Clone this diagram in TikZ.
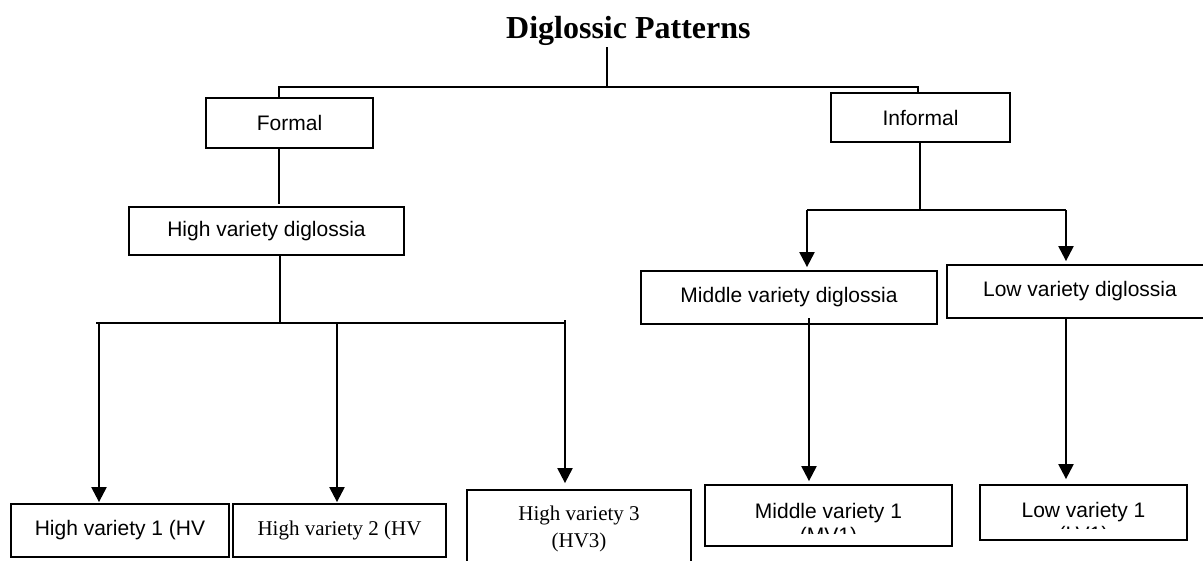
\documentclass[tikz,border=0pt]{standalone}
\usepackage{fontspec}
\setmainfont{Liberation Serif}
\newfontfamily\arialf{Liberation Sans}
\usetikzlibrary{arrows.meta}
\begin{document}
\begin{tikzpicture}[x=1pt,y=-1pt,
  box/.style={draw=black, line width=1.8pt, inner sep=0pt},
  sanst/.style={font=\arialf\fontsize{21}{24}\selectfont},
  seriftxt/.style={font=\fontsize{21}{27}\selectfont},
  conn/.style={line width=1.8pt},
  thinconn/.style={line width=1.3pt},
  arr/.style={line width=2.2pt, -{Triangle[width=15pt,length=15pt]}},
]
\clip (0,0) rectangle (1203,560);
\fill[white] (0,0) rectangle (1203,560);

% title
\node[font=\bfseries\fontsize{32}{36}\selectfont, anchor=base west, inner sep=0pt] (title) at (506,38) {Diglossic Patterns};

% first level
\node[box, sanst, minimum width=167pt, minimum height=50pt] (formal) at (289.5,123) {Formal};
\node[box, sanst, minimum width=179pt, minimum height=49pt] (informal) at (920.5,117.5) {Informal};

% second level
\node[box, sanst, minimum width=275pt, minimum height=48pt] (hvd) at (266.5,231) {High variety diglossia};
\node[box, sanst, minimum width=296pt, minimum height=53pt] (mvd) at (789,297.5) {Middle variety diglossia};
\node[box, sanst, minimum width=266pt, minimum height=53pt] (lvd) at (1080,291.5) {Low variety diglossia};

% bottom level
\node[box, sanst, minimum width=218pt, minimum height=53pt] (hv1) at (120,530.5) {High variety 1 (HV};
\node[box, seriftxt, minimum width=213pt, minimum height=53pt] (hv2) at (339.5,530.5) {High variety 2 (HV};
\node[box, minimum width=224pt, minimum height=90pt] (hv3) at (579,535) {};
\node[seriftxt, anchor=base, inner sep=0pt] (hv3a) at (579,520) {High variety 3};
\node[seriftxt, anchor=base, inner sep=0pt] (hv3b) at (579,547) {(HV3)};

\node[box, minimum width=247pt, minimum height=61pt] (mv1) at (828.5,515.5) {};
\node[sanst, anchor=base, inner sep=0pt] (mv1a) at (828.5,518) {Middle variety 1};
\begin{scope}
  \clip (706,486) rectangle (951,533);
  \node[sanst, anchor=base, inner sep=0pt] (mv1b) at (828.5,542) {(MV1)};
\end{scope}

\node[box, minimum width=207pt, minimum height=55pt] (lv1) at (1083.5,512.5) {};
\node[sanst, anchor=base, inner sep=0pt] (lv1a) at (1083.5,517) {Low variety 1};
\begin{scope}
  \clip (981,486) rectangle (1186,528);
  \node[sanst, anchor=base, inner sep=0pt] (lv1b) at (1083.5,541) {(LV1)};
\end{scope}

% junction coordinates
\coordinate (jt) at (607,87);
\coordinate (jf) at (279,87);
\coordinate (ji) at (918,87);
\coordinate (jh) at (280,323);
\coordinate (jl) at (96,323);
\coordinate (jr) at (565,323);
\coordinate (a1) at (99,323);
\coordinate (a2) at (337,323);
\coordinate (a3) at (565,320);
\coordinate (ji2) at (920,210);
\coordinate (jm) at (807,210);
\coordinate (jlo) at (1066,210);
\coordinate (mvx) at (809,318);
\coordinate (lvx) at (1066,318);

% connectors
\draw[thinconn] (jt |- title.south) ++(0,2) -- (jt);
\draw[conn] (formal.north -| jf) -- (jf) -- (ji) -- (informal.north -| ji);
\draw[conn] (formal.south -| jf) -- ([yshift=2pt]hvd.north -| jf);
\draw[conn] (hvd.south -| jh) -- (jh);
\draw[conn] (jl) -- (jr);
\draw[arr, shorten >=1pt] (a1) -- (a1 |- hv1.north);
\draw[arr, shorten >=1pt] (a2) -- (a2 |- hv2.north);
\draw[arr, shorten >=6pt] (a3) -- (a3 |- hv3.north);

\draw[conn] (informal.south -| ji2) -- (ji2);
\draw[conn] (jm) -- (jlo);
\draw[arr, shorten >=3pt] (jm) -- (jm |- mvd.north);
\draw[arr, shorten >=3pt] (jlo) -- (jlo |- lvd.north);
\draw[arr, shorten >=3pt] (mvx) -- (mvx |- mv1.north);
\draw[arr, shorten >=5pt] (lvx) -- (lvx |- lv1.north);
\end{tikzpicture}
\end{document}
